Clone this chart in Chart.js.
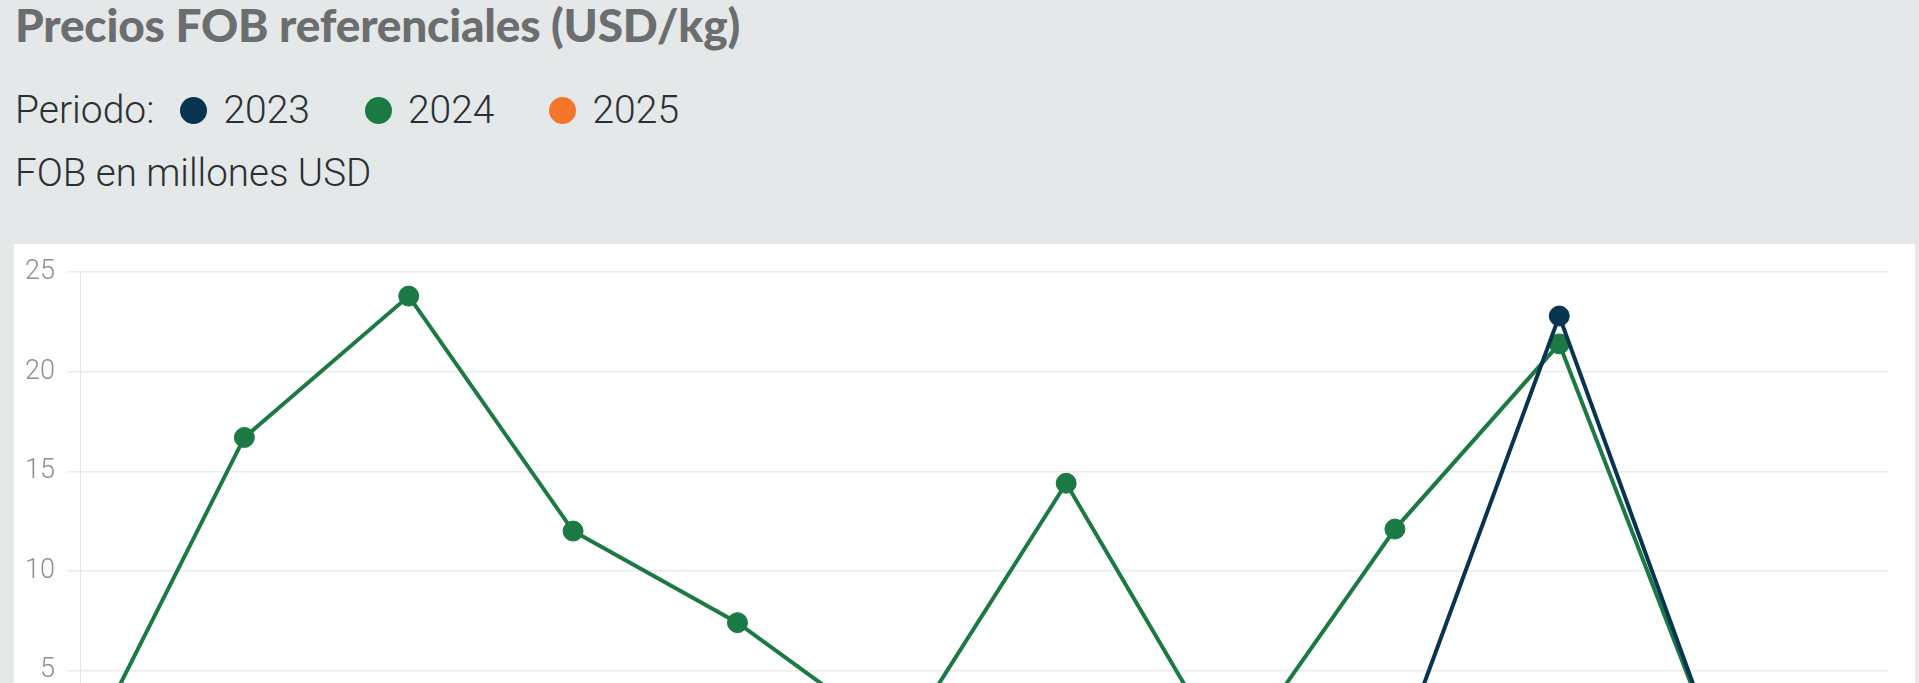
<!DOCTYPE html>
<html lang="es">
<head>
<meta charset="utf-8">
<title>Precios FOB referenciales</title>
<script src="https://cdn.jsdelivr.net/npm/chart.js@4.4.1/dist/chart.umd.min.js"></script>
<style>
  html, body {
    margin: 0;
    padding: 0;
    overflow: hidden;
    background: #e4e8e9;
  }
  body {
    width: 1919px;
    height: 683px;
    position: relative;
  }
  .title {
    position: absolute;
    left: 15px;
    top: 2px;
    margin: 0;
    font: 900 46px/1 Lato, sans-serif;
    letter-spacing: -0.2px;
    color: #6c6d6f;
    white-space: nowrap;
  }
  .legend {
    position: absolute;
    left: 15px;
    top: 91px;
    display: flex;
    align-items: center;
    font: 300 39px/1 Roboto, sans-serif;
    color: #2c3034;
    white-space: nowrap;
  }
  .legend ul {
    display: flex;
    align-items: center;
    list-style: none;
    margin: 0 0 0 26px;
    padding: 0;
  }
  .legend li {
    display: flex;
    align-items: center;
    margin-right: 55px;
  }
  .legend li span {
    display: inline-block;
    width: 27px;
    height: 27px;
    border-radius: 50%;
    margin-right: 16px;
  }
  .subtitle {
    position: absolute;
    left: 15px;
    top: 154px;
    font: 300 38.5px/1 Roboto, sans-serif;
    color: #2c3034;
    white-space: nowrap;
  }
  .chart-box {
    position: absolute;
    left: 14px;
    top: 244px;
    width: 1901px;
    height: 576px;
    background: #ffffff;
  }
</style>
</head>
<body>
<h1 class="title">Precios FOB referenciales (USD/kg)</h1>
<div class="legend" id="fobChart-legend">Periodo:</div>
<div class="subtitle">FOB en millones USD</div>
<div class="chart-box">
  <canvas id="fobChart"></canvas>
</div>

<script>
  'use strict';

  const months = ['Ene', 'Feb', 'Mar', 'Abr', 'May', 'Jun', 'Jul', 'Ago', 'Sep', 'Oct', 'Nov', 'Dic'];
  const fob2023 = [0.2, 0.3, 0.2, 0.4, 0.3, 0.2, 0.3, 0.2, 0.35, 22.8, 0.1, 0.2];
  const fob2024 = [0.3, 16.7, 23.8, 12.0, 7.4, 1.4, 14.4, 0.35, 12.1, 21.4, 0.1, 0.2];
  const fob2025 = [0.4, 0.6, 0.5, 0.8, 0.3, 0.5];
  const yTicks = [0, 5, 10, 15, 20, 25];

  const colors = {
    '2023': '#073451',
    '2024': '#1b7a43',
    '2025': '#f3762a'
  };

  function lineSet(label, data) {
    return {
      label: label,
      data: data,
      borderColor: colors[label],
      backgroundColor: colors[label],
      borderWidth: 4,
      pointRadius: 10,
      pointBorderWidth: 1,
      pointHoverRadius: 10,
      tension: 0,
      fill: false
    };
  }

  const fobCanvas = document.getElementById('fobChart');
  const chart = new Chart(fobCanvas, {
    type: 'line',
    data: {
      labels: months,
      datasets: [
        lineSet('2023', fob2023),
        lineSet('2024', fob2024),
        lineSet('2025', fob2025)
      ]
    },
    options: {
      responsive: true,
      maintainAspectRatio: false,
      animation: false,
      layout: {
        padding: { top: 25, right: 27, bottom: 0, left: 0 }
      },
      scales: {
        y: {
          min: 0,
          max: 25,
          afterBuildTicks: function (scale) {
            scale.ticks = yTicks.map(v => ({ value: v }));
          },
          afterFit: function (scale) {
            scale.width = 66;
          },
          border: {
            display: true,
            color: '#e4e4e4',
            width: 1
          },
          grid: {
            display: true,
            drawTicks: true,
            tickLength: 13,
            color: '#ebebeb',
            lineWidth: 1.5
          },
          ticks: {
            padding: 12,
            color: '#909090',
            font: {
              family: 'Roboto',
              weight: 300,
              size: 27
            }
          }
        },
        x: {
          offset: false,
          afterFit: function (scale) {
            scale.height = 50;
          },
          border: {
            display: false
          },
          grid: {
            display: false
          },
          ticks: {
            color: '#909090',
            font: {
              family: 'Roboto',
              weight: 300,
              size: 27
            }
          }
        }
      },
      plugins: {
        legend: { display: false },
        tooltip: { enabled: false }
      }
    }
  });

  // html legend built from the datasets
  const ul = document.createElement('ul');
  chart.data.datasets.forEach(ds => {
    ul.innerHTML += `<li><span style="background-color: ${ds.borderColor}"></span>${ds.label}</li>`;
  });
  document.getElementById('fobChart-legend').appendChild(ul);
</script>
</body>
</html>
